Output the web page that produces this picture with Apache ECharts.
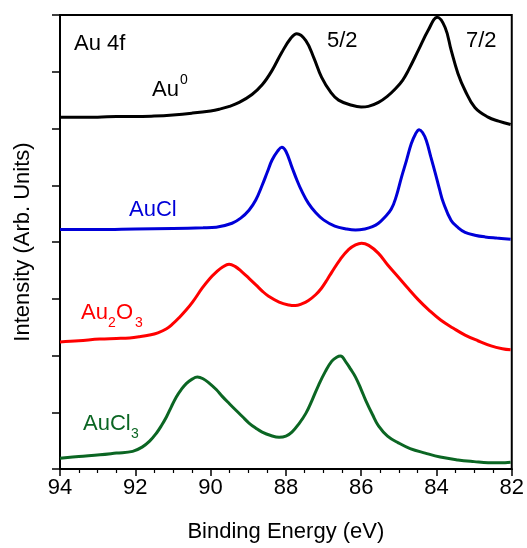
<!DOCTYPE html>
<html>
<head>
<meta charset="utf-8">
<script src="https://cdn.jsdelivr.net/npm/echarts@6/dist/echarts.min.js"></script>
<style>
html,body{margin:0;padding:0;background:#fff;}
#chart{width:527px;height:548px;}
</style>
</head>
<body>
<div id="chart"></div>
<script>
// ---- data (binding energy in eV, intensity in arbitrary stacked units) ----
const xTicks = [94, 92, 90, 88, 86, 84, 82];

const energyAu0 = [94.0, 93.5, 93.0, 92.5, 92.0, 91.5, 91.0, 90.5, 90.0, 89.77, 89.5, 89.24, 88.9, 88.63, 88.37, 88.11, 87.87, 87.71, 87.47, 87.26, 87.05, 86.81, 86.6, 86.25, 86.0, 85.81, 85.54, 85.3, 85.09, 84.9, 84.75, 84.48, 84.22, 83.98, 83.77, 83.61, 83.43, 83.24, 82.98, 82.63, 82.35, 82.03];
const intensityAu0 = [6.20, 6.20, 6.20, 6.21, 6.21, 6.22, 6.24, 6.27, 6.31, 6.34, 6.39, 6.46, 6.60, 6.77, 7.02, 7.34, 7.59, 7.67, 7.55, 7.25, 6.90, 6.64, 6.50, 6.41, 6.38, 6.39, 6.46, 6.57, 6.70, 6.85, 7.02, 7.38, 7.73, 7.96, 7.78, 7.38, 6.97, 6.67, 6.37, 6.20, 6.13, 6.07];

const energyAuCl = [94.0, 93.0, 92.0, 91.0, 90.2, 89.85, 89.43, 89.2, 88.98, 88.8, 88.63, 88.5, 88.37, 88.22, 88.11, 88.0, 87.84, 87.7, 87.58, 87.4, 87.21, 87.0, 86.7, 86.4, 86.15, 85.9, 85.7, 85.54, 85.38, 85.2, 85.07, 84.93, 84.8, 84.67, 84.56, 84.46, 84.37, 84.27, 84.15, 84.03, 83.92, 83.82, 83.61, 83.42, 83.24, 82.98, 82.71, 82.4, 82.03];
const intensityAuCl = [4.22, 4.22, 4.23, 4.24, 4.25, 4.26, 4.33, 4.42, 4.56, 4.74, 5.00, 5.22, 5.44, 5.60, 5.67, 5.60, 5.32, 5.08, 4.90, 4.68, 4.52, 4.39, 4.28, 4.23, 4.21, 4.23, 4.27, 4.33, 4.43, 4.58, 4.80, 5.14, 5.43, 5.73, 5.90, 5.98, 5.93, 5.79, 5.50, 5.21, 4.93, 4.70, 4.38, 4.25, 4.17, 4.12, 4.09, 4.07, 4.05];

const energyAu2O3 = [94.0, 93.5, 92.94, 92.5, 92.15, 91.89, 91.62, 91.4, 91.17, 91.0, 90.83, 90.65, 90.48, 90.22, 90.03, 89.85, 89.68, 89.51, 89.35, 89.16, 88.98, 88.79, 88.62, 88.45, 88.18, 87.92, 87.75, 87.58, 87.4, 87.21, 87.05, 86.9, 86.78, 86.55, 86.33, 86.15, 85.99, 85.8, 85.54, 85.3, 85.01, 84.75, 84.48, 84.2, 83.88, 83.55, 83.24, 82.9, 82.55, 82.25, 82.03];
const intensityAu2O3 = [2.24, 2.26, 2.29, 2.30, 2.31, 2.33, 2.36, 2.40, 2.47, 2.56, 2.67, 2.80, 2.94, 3.19, 3.35, 3.47, 3.56, 3.61, 3.57, 3.47, 3.36, 3.24, 3.13, 3.04, 2.94, 2.89, 2.88, 2.91, 2.97, 3.07, 3.19, 3.34, 3.47, 3.70, 3.87, 3.95, 3.98, 3.94, 3.80, 3.60, 3.38, 3.18, 2.98, 2.80, 2.62, 2.48, 2.36, 2.26, 2.17, 2.12, 2.10];

const energyAuCl3 = [94.0, 93.5, 92.94, 92.5, 92.07, 91.81, 91.62, 91.44, 91.3, 91.17, 91.04, 90.91, 90.78, 90.64, 90.5, 90.35, 90.2, 90.03, 89.85, 89.69, 89.5, 89.32, 89.15, 88.98, 88.8, 88.63, 88.4, 88.18, 88.0, 87.84, 87.65, 87.47, 87.3, 87.13, 86.95, 86.78, 86.65, 86.55, 86.4, 86.28, 86.15, 86.0, 85.88, 85.7, 85.54, 85.3, 85.01, 84.7, 84.3, 83.9, 83.43, 83.0, 82.63, 82.3, 82.03];
const intensityAuCl3 = [0.19, 0.22, 0.25, 0.28, 0.31, 0.39, 0.49, 0.63, 0.77, 0.92, 1.10, 1.27, 1.40, 1.51, 1.58, 1.62, 1.59, 1.51, 1.40, 1.28, 1.15, 1.03, 0.92, 0.81, 0.72, 0.65, 0.59, 0.56, 0.58, 0.65, 0.80, 0.98, 1.22, 1.48, 1.72, 1.90, 1.97, 1.99, 1.88, 1.76, 1.62, 1.40, 1.21, 0.96, 0.76, 0.58, 0.46, 0.36, 0.28, 0.21, 0.16, 0.13, 0.11, 0.11, 0.12];

const seriesNames = ['Au0', 'AuCl', 'Au2O3', 'AuCl3'];
const seriesColors = ['#000000', '#0000d8', '#ff0000', '#0b6623'];

// ---- chart ----
const zip = (xs, ys) => xs.map((x, i) => [x, ys[i]]);
const allData = [
  zip(energyAu0, intensityAu0),
  zip(energyAuCl, intensityAuCl),
  zip(energyAu2O3, intensityAu2O3),
  zip(energyAuCl3, intensityAuCl3)
];

const FONT = 'Liberation Sans, Arial, sans-serif';
const chart = echarts.init(document.getElementById('chart'), null, {renderer: 'canvas'});

function txt(x, y, s, color, size) {
  return {type: 'text', left: x, top: y, style: {text: s, fill: color, font: size + 'px ' + FONT}};
}

chart.setOption({
  animation: false,
  backgroundColor: '#fff',
  grid: {left: 60, right: 13, top: 15, bottom: 79, show: true, borderColor: '#000', borderWidth: 2, backgroundColor: 'transparent'},
  xAxis: {
    type: 'value', inverse: true, min: 82, max: 94, interval: 2,
    name: 'Binding Energy (eV)', nameLocation: 'middle', nameGap: 52,
    nameTextStyle: {fontSize: 22, color: '#000', fontFamily: FONT},
    axisLine: {show: true, lineStyle: {color: '#000', width: 2}},
    axisTick: {show: true, inside: false, length: 7, lineStyle: {color: '#000', width: 1.5}},
    minorTick: {show: true, splitNumber: 4, length: 4, lineStyle: {color: '#000', width: 1.2}},
    axisLabel: {fontSize: 22, color: '#000', fontFamily: FONT, margin: 8,
      formatter: v => xTicks.includes(v) ? String(v) : ''},
    splitLine: {show: false}
  },
  yAxis: {
    type: 'value', min: 0, max: 8, interval: 1,
    name: 'Intensity (Arb. Units)', nameLocation: 'middle', nameGap: 26,
    nameTextStyle: {fontSize: 22, color: '#000', fontFamily: FONT},
    axisLine: {show: true, lineStyle: {color: '#000', width: 2}},
    axisTick: {show: true, inside: false, length: 8, lineStyle: {color: '#000', width: 1.5}},
    axisLabel: {show: false},
    splitLine: {show: false}
  },
  series: allData.map((d, i) => ({
    name: seriesNames[i], type: 'line', data: d, showSymbol: false, smooth: 0.4,
    lineStyle: {color: seriesColors[i], width: 3}, itemStyle: {color: seriesColors[i]}
  })),
  graphic: [
    txt(74, 33, 'Au 4f', '#000', 22),
    txt(152, 79, 'Au', '#000', 22),
    txt(180, 73, '0', '#000', 14),
    txt(327, 30, '5/2', '#000', 22),
    txt(466, 30, '7/2', '#000', 22),
    txt(129, 199, 'AuCl', seriesColors[1], 22),
    txt(81, 302, 'Au', seriesColors[2], 22),
    txt(108, 316, '2', seriesColors[2], 14),
    txt(116, 302, 'O', seriesColors[2], 22),
    txt(135, 316, '3', seriesColors[2], 14),
    txt(83, 413, 'AuCl', seriesColors[3], 22),
    txt(131, 427, '3', seriesColors[3], 14)
  ]
});
</script>
</body>
</html>
